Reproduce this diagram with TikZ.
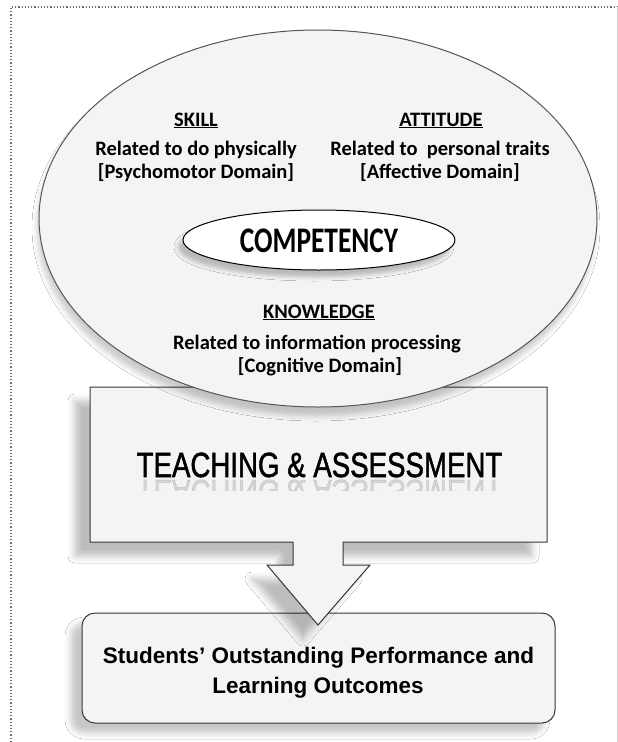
\documentclass[tikz,border=0pt]{standalone}
\usepackage{fontspec}
\setmainfont{Carlito}
\newfontfamily\arialf{Liberation Sans}
\newfontfamily\arialheavy[FakeBold=1.6]{Liberation Sans}
\usetikzlibrary{shapes.geometric,shadows.blur}
\definecolor{fillg}{RGB}{244,244,244}
\definecolor{edgec}{RGB}{55,55,55}
\definecolor{framec}{RGB}{110,110,110}
\begin{document}
\begin{tikzpicture}[x=1pt,y=-1pt,
  shapebox/.style={draw=edgec, line width=1pt, fill=fillg},
  lbl/.style={font=\fontsize{20.5}{22}\selectfont\bfseries, inner sep=0pt, anchor=base, text=black},
  outtxt/.style={font=\arialf\bfseries\fontsize{22.5}{24}\selectfont, inner sep=0pt, anchor=base},
  teachtxt/.style={font=\arialheavy\fontsize{35}{36}\selectfont, inner sep=0pt, anchor=base}]
\useasboundingbox (0,0) rectangle (618,742);
\fill[white] (0,0) rectangle (618,742);
% frame
\draw[framec, line width=1.2pt, dotted] (11,742) -- (11,7) -- (617,7);
\draw[gray!35, line width=0.6pt] (617,7) -- (617,742);

% outcome box
\node[shapebox, rounded corners=13pt, minimum width=473pt, minimum height=110pt, inner sep=0pt,
  blur shadow={shadow xshift=-11pt, shadow yshift=-10pt, shadow opacity=22, shadow blur radius=6pt}]
  (outcome) at (318.5,668) {};

% teaching callout with down arrow
\path[shapebox, blur shadow={shadow xshift=-15pt, shadow yshift=-14pt, shadow opacity=26, shadow blur radius=7pt}]
  (90,387) -- (547,387) -- (547,542) -- (343,542) -- (343,565) -- (370,565) -- (318,625)
  -- (267,565) -- (293,565) -- (293,542) -- (90,542) -- cycle;

% competency outer ellipse
\node[shapebox, draw=edgec!85, ellipse, minimum width=558pt, minimum height=377pt, inner sep=0pt,
  blur shadow={shadow xshift=-2pt, shadow yshift=-9pt, shadow opacity=20, shadow blur radius=5pt}]
  (outer) at (318,218.5) {};

% inner ellipse
\node[ellipse, draw=black, line width=1pt, fill=white, minimum width=272pt, minimum height=60pt, inner sep=0pt,
  blur shadow={shadow xshift=-5pt, shadow yshift=-7pt, shadow opacity=24, shadow blur radius=4pt}]
  (inner) at (319,240) {};
\node[font=\fontsize{36}{36}\selectfont\bfseries, inner sep=0pt, anchor=base] (compT) at (319,252)
  {\scalebox{0.76}[1]{COMPETENCY}};

% domain texts
\node[lbl] (skillT) at (196,126) {\underline{SKILL}};
\node[lbl] (skill1) at (196,155) {Related to do physically};
\node[lbl] (skill2) at (196,178) {[Psychomotor Domain]};
\node[lbl] (attT) at (441,126) {\underline{ATTITUDE}};
\node[lbl] (att1) at (440,155) {Related to\ \ personal traits};
\node[lbl] (att2) at (440,178) {[Affective Domain]};
\node[lbl] (knT) at (319,318) {\underline{KNOWLEDGE}};
\node[lbl] (kn1) at (317,349) {Related to information processing};
\node[lbl] (kn2) at (320,372) {[Cognitive Domain]};

% teaching text + faint reflection
\node[teachtxt] (teachT) at (319.5,477) {\scalebox{0.79}[1]{TEACHING \& ASSESSMENT}};
\begin{scope}
  \clip (100,479) rectangle (540,490);
  \node[teachtxt, opacity=0.12] (teachR) at (319.5,480) {\scalebox{0.79}[-1]{TEACHING \& ASSESSMENT}};
\end{scope}

% outcome text
\node[outtxt] (out1) at (318.5,663) {Students’ Outstanding Performance and};
\node[outtxt] (out2) at (318,693) {Learning Outcomes};
\end{tikzpicture}
\end{document}
